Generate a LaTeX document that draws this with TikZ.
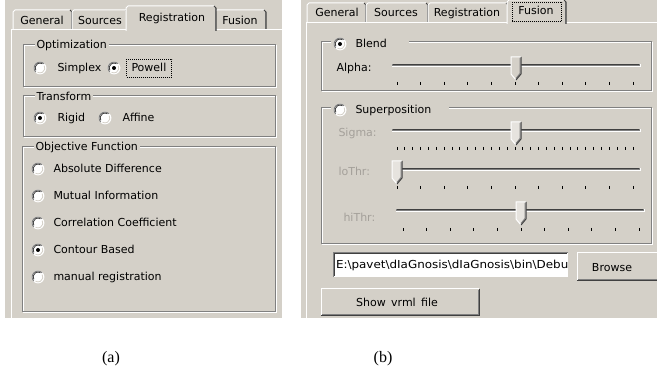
\documentclass[tikz,border=0pt]{standalone}
\usepackage{fontspec}
\setmainfont{Liberation Serif}
\newfontfamily\uifont{DejaVu Sans}

\definecolor{winbg}{HTML}{D4D0C8}
\definecolor{shadowc}{HTML}{808080}
\definecolor{dkshadowc}{HTML}{404040}
\definecolor{graytxt}{HTML}{A4A09A}
\definecolor{thumbdis}{HTML}{E6E3DE}

% tab header: x0, x1, ytop, ybottom
\newcommand\tabshape[4]{%
  \fill[winbg] (#1,#3) rectangle (#2,#4);
  \draw[white] (#1,#4) -- (#1,#3+2) -- (#1+2,#3) -- (#2-2,#3);
  \draw[shadowc] (#2-1,#3+1) -- (#2-1,#4);
  \draw[dkshadowc] (#2-2,#3) -- (#2,#3+2) -- (#2,#4);
}
% etched group frame: x0, y0, x1, y1
\newcommand\grpbox[4]{%
  \draw[white] (#1+1,#2+1) rectangle (#3+1,#4+1);
  \draw[shadowc] (#1,#2) rectangle (#3,#4);
}
% radio button: x, y, checked (1/0)
\newcommand\radiobtn[3]{%
  \fill[white] (#1,#2) circle (6.4);
  \draw[shadowc, line width=0.7pt] (#1,#2) ++(135:5.9) arc (135:315:5.9);
  \draw[dkshadowc, line width=0.6pt] (#1,#2) ++(150:4.9) arc (150:300:4.9);
  \draw[winbg, line width=0.6pt] (#1,#2) ++(-30:4.9) arc (-30:120:4.9);
  \ifnum#3=1 \fill[black] (#1,#2) circle (2);\fi
}
% slider groove: x0, x1, y
\newcommand\groove[3]{%
  \fill[shadowc] (#1,#3-2) rectangle (#2,#3+0.5);
  \draw[dkshadowc] (#1+1,#3-1) -- (#2-1,#3-1);
  \draw[white] (#1,#3+1) -- (#2,#3+1) -- (#2,#3-2);
}
% slider thumb: x centre, y top, fill colour
\newcommand\thumbsh[3]{%
  \fill[#3] (#1-5,#2) -- (#1+5,#2) -- (#1+5,#2+17) -- (#1,#2+23) -- (#1-5,#2+17) -- cycle;
  \draw[white] (#1,#2+23) -- (#1-5,#2+17) -- (#1-5,#2) -- (#1+5,#2);
  \draw[shadowc] (#1+4,#2+1) -- (#1+4,#2+16.5) -- (#1,#2+21.5);
  \draw[dkshadowc] (#1+5,#2) -- (#1+5,#2+17) -- (#1,#2+23);
}
% tick marks: x0, x1, intervals, y
\newcommand\tickrow[4]{%
  \foreach \k in {0,...,#3} \draw[black] ({#1+(#2-#1)*\k/#3},#4) -- ++(0,3);
}
% raised push button: x0, y0, x1, y1
\newcommand\pushbtn[4]{%
  \fill[winbg] (#1,#2) rectangle (#3,#4);
  \draw[white] (#1,#4) -- (#1,#2) -- (#3,#2);
  \draw[shadowc] (#1+1,#4-1) -- (#3-1,#4-1) -- (#3-1,#2+1);
  \draw[dkshadowc] (#1,#4) -- (#3,#4) -- (#3,#2);
}

\tikzset{
  ui/.style={font=\uifont\fontsize{8.25}{10}\selectfont, inner sep=0pt, text=black},
  lbl/.style={ui, anchor=base west},
  ctr/.style={ui, anchor=base},
  dis/.style={lbl, text=graytxt},
  grptitle/.style={lbl, fill=winbg, inner xsep=1.5pt},
  focusbox/.style={draw=black, dash pattern=on 0.75pt off 0.75pt},
  caption/.style={font=\fontsize{12}{14}\selectfont, anchor=base, inner sep=0pt}
}

\begin{document}
\begin{tikzpicture}[x=0.75pt, y=-0.75pt, line width=0.75pt]
\useasboundingbox (0,0) rectangle (657,370);
\fill[white] (0,0) rectangle (657,370);

%% ---------------- left dialog: Registration page ----------------
\fill[winbg] (5,0) rectangle (282,318);
\tabshape{13}{72}{10}{30}
\tabshape{72}{128}{10}{30}
\tabshape{215}{266}{10}{30}
\draw[white] (11,318) -- (11,30) -- (282,30);
\tabshape{126}{216}{6}{31}
\node[ctr] (tabAgen) at (42,25) {General};
\node[ctr] (tabAsrc) at (100,25) {Sources};
\node[ctr] (tabAreg) at (172,22) {Registration};
\node[ctr] (tabAfus) at (240,25) {Fusion};

% Optimization
\grpbox{23}{45}{275}{87}
\node[grptitle] (optT) at (34,49) {Optimization};
\radiobtn{40}{68}{0}
\node[lbl] (simplex) at (57,72) {Simplex};
\radiobtn{114}{68}{1}
\node[lbl] (powell) at (131,72) {Powell};
\draw[focusbox] (126.5,59.5) rectangle (171.5,77.5);

% Transform
\grpbox{23}{96}{275}{137}
\node[grptitle] (trT) at (34,101) {Transform};
\radiobtn{40}{118}{1}
\node[lbl] (rigid) at (57,122) {Rigid};
\radiobtn{105}{118}{0}
\node[lbl] (affine) at (122,122) {Affine};

% Objective Function
\grpbox{22}{147}{275}{312}
\node[grptitle] (objT) at (33,151) {Objective Function};
\radiobtn{38}{169}{0}
\node[lbl] (absd) at (53,173) {Absolute Difference};
\radiobtn{38}{196}{0}
\node[lbl] (mutI) at (53,200) {Mutual Information};
\radiobtn{38}{223}{0}
\node[lbl] (corr) at (53,227) {Correlation Coefficient};
\radiobtn{38}{250}{1}
\node[lbl] (cont) at (53,254) {Contour Based};
\radiobtn{38}{277}{0}
\node[lbl] (manr) at (53,281) {manual registration};

%% ---------------- right dialog: Fusion page ----------------
\fill[winbg] (301,0) rectangle (657,318);
\tabshape{307}{366}{3}{23}
\tabshape{366}{428}{3}{23}
\tabshape{428}{508}{3}{23}
\draw[white] (306,318) -- (306,23) -- (657,23);
\tabshape{507}{566}{0}{24}
\node[ctr] (tabBgen) at (337,17) {General};
\node[ctr] (tabBsrc) at (396,17) {Sources};
\node[ctr] (tabBreg) at (467,17) {Registration};
\node[ctr] (tabBfus) at (536,15) {Fusion};
\draw[focusbox] (512.5,2.5) rectangle (561.5,21.5);

% Blend
\grpbox{321}{42}{651}{91}
\fill[winbg] (331,36) rectangle (409,50);
\radiobtn{340}{44}{1}
\node[lbl] (blend) at (355,48) {Blend};
\node[lbl] (alpha) at (336,72) {Alpha:};
\groove{392}{640}{66}
\tickrow{397}{633}{10}{82}
\thumbsh{516}{57}{winbg}

% Superposition
\grpbox{321}{108}{651}{244}
\fill[winbg] (331,102) rectangle (449,116);
\radiobtn{340}{110}{0}
\node[lbl] (superp) at (355,114) {Superposition};
\node[dis] (sigma) at (338,137) {Sigma:};
\groove{392}{640}{131}
\tickrow{397}{633}{30}{147}
\thumbsh{516}{122}{thumbdis}
\node[dis] (lothr) at (338,176) {loThr:};
\groove{392}{640}{170}
\tickrow{397}{633}{10}{186}
\thumbsh{397}{161}{thumbdis}
\node[dis] (hithr) at (343,222) {hiThr:};
\groove{396}{644}{211}
\tickrow{403}{639}{10}{228}
\thumbsh{521}{202}{thumbdis}

% path field and buttons
\fill[white] (333,253) rectangle (568,277);
\draw[shadowc] (333,277) -- (333,253) -- (568,253);
\draw[dkshadowc] (334,276) -- (334,254) -- (567,254);
\begin{scope}
  \clip (335,255) rectangle (567,276);
  \node[lbl] (pathtxt) at (335.5,269) {\scalebox{1.085}[1]{E:\textbackslash pavet\textbackslash dIaGnosis\textbackslash dIaGnosis\textbackslash bin\textbackslash Debug}};
\end{scope}
\pushbtn{577}{253}{662}{281}
\node[ctr] (browse) at (612,272) {Browse};
\pushbtn{321}{289}{479}{316}
\node[ctr] (showvrml) at (397,307) {Show\hspace{4pt}vrml\hspace{4pt}file};

%% ---------------- captions ----------------
\node[caption] (capa) at (111,363) {(a)};
\node[caption] (capb) at (383,363) {(b)};
\end{tikzpicture}
\end{document}
